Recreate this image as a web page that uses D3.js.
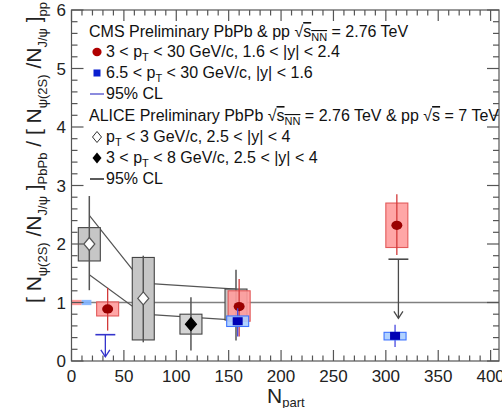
<!DOCTYPE html>
<html><head><meta charset="utf-8">
<script src="https://cdn.jsdelivr.net/npm/d3@7"></script>
<style>body{margin:0;background:#fff}svg{display:block;font-family:"Liberation Sans",Arial,Helvetica,sans-serif}</style>
</head><body>
<svg id="c" width="502" height="408"></svg>
<script>
// ---------- data ----------
const xTicks = [0, 50, 100, 150, 200, 250, 300, 350, 400];
const yTicks = [0, 1, 2, 3, 4, 5, 6];

// CMS 3 < pT < 30 GeV/c, 1.6 < |y| < 2.4 (red)
const cmsRedNpart  = [34.5, 160, 310.5];
const cmsRedVal    = [0.89, 0.93, 2.32];
const cmsRedStatLo = [0.52, 0.42, 1.81];
const cmsRedStatHi = [1.25, 1.40, 2.85];
const cmsRedSysLo  = [0.77, 0.68, 1.94];
const cmsRedSysHi  = [1.01, 1.20, 2.70];

// CMS 6.5 < pT < 30 GeV/c, |y| < 1.6 (blue)
const cmsBlueNpart  = [158.6, 308.8];
const cmsBlueVal    = [0.68, 0.43];
const cmsBlueStatLo = [0.42, 0.24];
const cmsBlueStatHi = [0.90, 0.62];
const cmsBlueSysLo  = [0.59, 0.36];
const cmsBlueSysHi  = [0.77, 0.49];

// CMS 95% CL upper limits
const limitNpart = [32.3, 312];
const limitVal   = [0.45, 1.74];
const limitTo    = [0.07, 0.73];
const limitKind  = ["blue", "gray"];

// ALICE pT < 3 GeV/c (open diamonds)
const aliceOpenNpart  = [17, 68.5];
const aliceOpenVal    = [2.0, 1.07];
const aliceOpenStatLo = [1.21, 0.32];
const aliceOpenStatHi = [2.82, 1.80];
const aliceOpenSysLo  = [1.71, 0.36];
const aliceOpenSysHi  = [2.28, 1.77];

// ALICE 3 < pT < 8 GeV/c (filled diamonds)
const aliceFullNpart  = [114];
const aliceFullVal    = [0.63];
const aliceFullStatLo = [0.18];
const aliceFullStatHi = [1.09];
const aliceFullSysLo  = [0.46];
const aliceFullSysHi  = [0.80];

// ALICE point hidden behind the CMS markers
const aliceHidNpart  = [157];
const aliceHidStatLo = [0.35];
const aliceHidStatHi = [1.56];
const aliceHidSysLo  = [0.70];
const aliceHidSysHi  = [1.23];

// ALICE 95% CL band edges
const aliceCLNpart = [17, 68.5, 157];
const aliceCLHi    = [2.49, 1.33, 1.23];
const aliceCLLo    = [1.475, 0.80, 0.70];

// global uncertainty boxes at unity
const globNpart = [[0, 9.7], [9.7, 19]];
const globHalf  = [0.045, 0.045];
const globKind  = ["red", "blue"];

// ---------- drawing ----------
const svg = d3.select("#c");
const x = d3.scaleLinear().domain([0, 408]).range([71.5, 499]);
const y = d3.scaleLinear().domain([0, 6]).range([361, 10]);
const HW = 10.5; // box half width in Npart units

const C = {
  redFill: "#ff9c9c", redStroke: "#e25a5a", redMark: "#9a0000", redBar: "#d23a3a",
  blueFill: "#a9cdff", blueStroke: "#3f74ff", blueMark: "#0000b4", blueBar: "#4a4ae0",
  grayFill: "#c6c6c6", grayStroke: "#444", grayBar: "#555"
};

const g = svg.append("g");

// unity line
g.append("line").attr("x1", x(0)).attr("x2", x(408)).attr("y1", y(1)).attr("y2", y(1))
  .attr("stroke", "#808080").attr("stroke-width", 1.3);

// global boxes
globNpart.forEach((r, i) => {
  g.append("rect").attr("x", x(r[0])).attr("width", x(r[1]) - x(r[0]))
    .attr("y", y(1 + globHalf[i])).attr("height", y(1 - globHalf[i]) - y(1 + globHalf[i]))
    .attr("fill", globKind[i] === "red" ? "#ff8f8f" : "#7fb3ff").attr("opacity", 0.9);
});

function sysBox(cx, lo, hi, fill, stroke, op) {
  g.append("rect").attr("x", x(cx - HW)).attr("width", x(cx + HW) - x(cx - HW))
    .attr("y", y(hi)).attr("height", y(lo) - y(hi))
    .attr("fill", fill).attr("fill-opacity", op).attr("stroke", stroke).attr("stroke-width", 1.1);
}
function statBar(cx, lo, hi, color, w) {
  g.append("line").attr("x1", x(cx)).attr("x2", x(cx)).attr("y1", y(hi)).attr("y2", y(lo))
    .attr("stroke", color).attr("stroke-width", w);
}
function diamond(cx, cy, fill, stroke) {
  const px = x(cx), py = y(cy);
  g.append("path").attr("d", `M${px},${py-6.5}L${px+5.5},${py}L${px},${py+6.5}L${px-5.5},${py}Z`)
    .attr("fill", fill).attr("stroke", stroke).attr("stroke-width", 1.2);
}

// ALICE CL band lines
const ln = d3.line().x((d, i) => x(aliceCLNpart[i])).y(d => y(d));
g.append("path").attr("d", ln(aliceCLHi)).attr("fill", "none").attr("stroke", "#555").attr("stroke-width", 1.2);
g.append("path").attr("d", ln(aliceCLLo)).attr("fill", "none").attr("stroke", "#555").attr("stroke-width", 1.2);

// ALICE hidden
aliceHidNpart.forEach((n, i) => {
  sysBox(n, aliceHidSysLo[i], aliceHidSysHi[i], C.grayFill, C.grayStroke, 1);
  statBar(n, aliceHidStatLo[i], aliceHidStatHi[i], C.grayBar, 1.5);
});
// ALICE open
aliceOpenNpart.forEach((n, i) => {
  sysBox(n, aliceOpenSysLo[i], aliceOpenSysHi[i], C.grayFill, C.grayStroke, 1);
  statBar(n, aliceOpenStatLo[i], aliceOpenStatHi[i], C.grayBar, 1.5);
  diamond(n, aliceOpenVal[i], "#fff", "#555");
});
// ALICE filled
aliceFullNpart.forEach((n, i) => {
  sysBox(n, aliceFullSysLo[i], aliceFullSysHi[i], "#d4d4d4", C.grayStroke, 1);
  statBar(n, aliceFullStatLo[i], aliceFullStatHi[i], C.grayBar, 1.5);
  diamond(n, aliceFullVal[i], "#000", "#000");
});

// CMS red
cmsRedNpart.forEach((n, i) => {
  sysBox(n, cmsRedSysLo[i], cmsRedSysHi[i], C.redFill, C.redStroke, 0.9);
  statBar(n, cmsRedStatLo[i], cmsRedStatHi[i], C.redBar, 1.3);
  g.append("ellipse").attr("cx", x(n)).attr("cy", y(cmsRedVal[i])).attr("rx", 5.5).attr("ry", 4.6)
    .attr("fill", C.redMark);
});
// CMS blue
cmsBlueNpart.forEach((n, i) => {
  statBar(n, cmsBlueStatLo[i], cmsBlueStatHi[i], C.blueBar, 1.3);
  sysBox(n, cmsBlueSysLo[i], cmsBlueSysHi[i], C.blueFill, C.blueStroke, 0.9);
  g.append("rect").attr("x", x(n) - 5).attr("y", y(cmsBlueVal[i]) - 4).attr("width", 10).attr("height", 8)
    .attr("fill", C.blueMark);
});
// limits
limitNpart.forEach((n, i) => {
  const col = limitKind[i] === "blue" ? "#3434cc" : "#4a4a4a";
  g.append("line").attr("x1", x(n - 9.5)).attr("x2", x(n + 9.5)).attr("y1", y(limitVal[i])).attr("y2", y(limitVal[i]))
    .attr("stroke", col).attr("stroke-width", 1.6);
  g.append("line").attr("x1", x(n)).attr("x2", x(n)).attr("y1", y(limitVal[i])).attr("y2", y(limitTo[i]))
    .attr("stroke", col).attr("stroke-width", 1.3);
  const ax = x(n), ay = y(limitTo[i]);
  g.append("path").attr("d", `M${ax-4.5},${ay-7}L${ax},${ay}L${ax+4.5},${ay-7}`)
    .attr("fill", "none").attr("stroke", col).attr("stroke-width", 1.3);
});

// ---------- frame & ticks ----------
const ax = svg.append("g").attr("stroke", "#555").attr("stroke-width", 1.2);
ax.append("rect").attr("x", x(0)).attr("y", y(6)).attr("width", x(408) - x(0)).attr("height", y(0) - y(6))
  .attr("fill", "none");
const xMinor = d3.range(0, 409, 10);
xMinor.forEach(v => {
  const major = v % 50 === 0;
  const L = major ? 11 : 5.5;
  ax.append("line").attr("x1", x(v)).attr("x2", x(v)).attr("y1", y(0)).attr("y2", y(0) - L);
  ax.append("line").attr("x1", x(v)).attr("x2", x(v)).attr("y1", y(6)).attr("y2", y(6) + L);
});
const yMinor = d3.range(0, 6.001, 0.2);
yMinor.forEach(v => {
  const major = Math.abs(v - Math.round(v)) < 1e-6;
  const L = major ? 12 : 6;
  ax.append("line").attr("x1", x(0)).attr("x2", x(0) + L).attr("y1", y(v)).attr("y2", y(v));
  ax.append("line").attr("x1", x(408)).attr("x2", x(408) - L).attr("y1", y(v)).attr("y2", y(v));
});

// tick labels
const tl = svg.append("g").attr("font-size", 17).attr("fill", "#222");
xTicks.forEach(v => tl.append("text").attr("x", x(v)).attr("y", 382).attr("text-anchor", "middle").text(v));
yTicks.forEach(v => tl.append("text").attr("x", 66).attr("y", y(v)).attr("dy", "0.36em").attr("text-anchor", "end").text(v));

// axis titles
const xt = svg.append("text").attr("x", 267).attr("y", 403).attr("font-size", 21).attr("fill", "#222");
xt.append("tspan").text("N");
xt.append("tspan").attr("font-size", 13).attr("dy", 4).text("part");

const yt = svg.append("text").attr("transform", "translate(41,303) rotate(-90)").attr("font-size", 21).attr("fill", "#222");
const parts = [["[ N", 0], ["ψ(2S)", 1], [" /N", 0], ["J/ψ", 1], [" ]", 0], ["PbPb", 1],
               [" / [ N", 0], ["ψ(2S)", 1], [" /N", 0], ["J/ψ", 1], [" ]", 0], ["pp", 1]];
let cur = 0;
parts.forEach(([t, sub]) => {
  const dy = sub ? 6 : 0;
  yt.append("tspan").attr("font-size", sub ? 13 : 21).attr("dy", dy - cur).text(t);
  cur = dy;
});

// ---------- legend ----------
const lg = svg.append("g").attr("font-size", 16).attr("fill", "#111");
function rich(xp, yp, segs) {
  const t = lg.append("text").attr("x", xp).attr("y", yp);
  let c = 0;
  segs.forEach(([s, sub, over]) => {
    const dy = sub ? 4 : 0;
    const ts = t.append("tspan").attr("dy", dy - c).text(s);
    if (sub) ts.attr("font-size", 11);
    if (over) ts.style("text-decoration", "overline");
    c = dy;
  });
  return t;
}
const rows = [37, 57, 78, 99, 121, 142, 163, 184];
rich(89, rows[0], [["CMS Preliminary PbPb & pp √"], ["s", 0, 1], ["NN", 1, 1], [" = 2.76 TeV"]]);
lg.append("ellipse").attr("cx", 97).attr("cy", rows[1] - 5).attr("rx", 4.6).attr("ry", 4.2).attr("fill", "#b00000");
rich(106, rows[1], [["3 < p"], ["T", 1], [" < 30 GeV/c, 1.6 < |y| < 2.4"]]);
lg.append("rect").attr("x", 93.5).attr("y", rows[2] - 8.5).attr("width", 7).attr("height", 7).attr("fill", "#0a1fd0");
rich(106, rows[2], [["6.5 < p"], ["T", 1], [" < 30 GeV/c, |y| < 1.6"]]);
lg.append("line").attr("x1", 90).attr("x2", 104).attr("y1", rows[3] - 5).attr("y2", rows[3] - 5)
  .attr("stroke", "#6f6fd6").attr("stroke-width", 1.6);
rich(106, rows[3], [["95% CL"]]);
rich(89, rows[4], [["ALICE Preliminary PbPb √"], ["s", 0, 1], ["NN", 1, 1], [" = 2.76 TeV & pp √"], ["s", 0, 1], [" = 7 TeV"]]);
{
  const px = 97, py = rows[5] - 5;
  lg.append("path").attr("d", `M${px},${py-5.5}L${px+4.5},${py}L${px},${py+5.5}L${px-4.5},${py}Z`)
    .attr("fill", "#fff").attr("stroke", "#333").attr("stroke-width", 1);
}
rich(106, rows[5], [["p"], ["T", 1], [" < 3 GeV/c, 2.5 < |y| < 4"]]);
{
  const px = 97, py = rows[6] - 5;
  lg.append("path").attr("d", `M${px},${py-5.5}L${px+4.5},${py}L${px},${py+5.5}L${px-4.5},${py}Z`)
    .attr("fill", "#000");
}
rich(106, rows[6], [["3 < p"], ["T", 1], [" < 8 GeV/c, 2.5 < |y| < 4"]]);
lg.append("line").attr("x1", 90).attr("x2", 104).attr("y1", rows[7] - 5).attr("y2", rows[7] - 5)
  .attr("stroke", "#333").attr("stroke-width", 1.6);
rich(106, rows[7], [["95% CL"]]);
</script>
</body></html>
